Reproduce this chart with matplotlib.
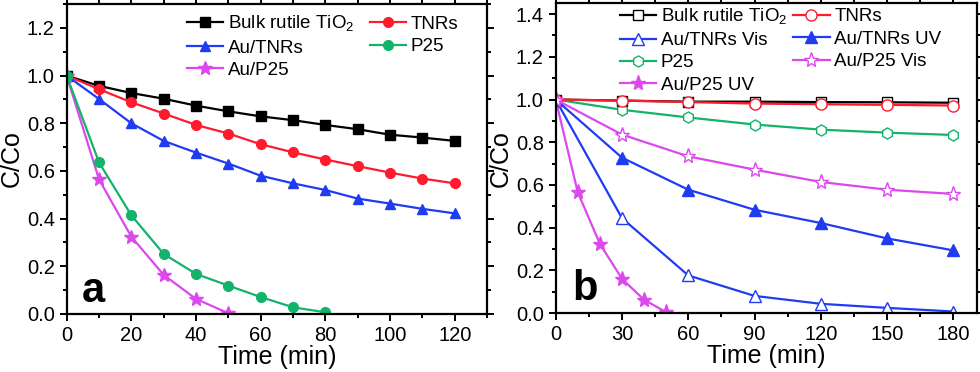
import matplotlib.pyplot as plt
from matplotlib.ticker import MultipleLocator

plt.rcParams['font.family'] = ['Liberation Sans', 'DejaVu Sans']
plt.rcParams['mathtext.fontset'] = 'custom'
plt.rcParams['mathtext.rm'] = 'Liberation Sans'

# panel a
t_a = [0, 10, 20, 30, 40, 50, 60, 70, 80, 90, 100, 110, 120]
bulk_a = [1.0, 0.957, 0.927, 0.903, 0.874, 0.850, 0.829, 0.813, 0.793, 0.775, 0.752, 0.740, 0.726]
tnrs_a = [1.0, 0.943, 0.888, 0.841, 0.793, 0.757, 0.712, 0.678, 0.648, 0.620, 0.593, 0.568, 0.548]
autnrs_a = [1.0, 0.902, 0.800, 0.726, 0.677, 0.631, 0.580, 0.548, 0.520, 0.484, 0.463, 0.441, 0.422]
t_p25 = [0, 10, 20, 30, 40, 50, 60, 70, 80]
p25_a = [1.0, 0.636, 0.414, 0.252, 0.168, 0.119, 0.071, 0.028, 0.007]
t_aup25 = [0, 10, 20, 30, 40, 50]
aup25_a = [1.0, 0.565, 0.324, 0.164, 0.063, 0.003]

# panel b
t_b = [0, 30, 60, 90, 120, 150, 180]
bulk_b = [1.0, 0.995, 0.990, 0.990, 0.988, 0.987, 0.985]
tnrs_b = [1.0, 0.995, 0.988, 0.981, 0.978, 0.975, 0.972]
autnrs_vis = [1.0, 0.445, 0.177, 0.081, 0.044, 0.025, 0.008]
autnrs_uv = [1.0, 0.728, 0.578, 0.484, 0.422, 0.350, 0.294]
p25_b = [1.0, 0.952, 0.916, 0.883, 0.859, 0.845, 0.834]
aup25_vis = [1.0, 0.836, 0.734, 0.672, 0.614, 0.578, 0.558]
t_aup25_uv = [0, 10, 20, 30, 40, 50]
aup25_uv = [1.0, 0.566, 0.325, 0.161, 0.063, 0.005]

black = '#000000'
red = '#ff1a2e'
blue = '#1f3cf2'
green = '#14b36b'
magenta = '#dc48ee'

fig = plt.figure(figsize=(9.8, 3.72), dpi=100)
ax1 = fig.add_axes([0.068, 0.156, 0.429, 0.833])
ax2 = fig.add_axes([0.567, 0.158, 0.4296, 0.833])

lw = 1.6
ax1.plot(t_a, bulk_a, '-s', color=black, lw=lw, ms=6.5, label='Bulk rutile TiO$_2$')
ax1.plot(t_a, autnrs_a, '-^', color=blue, lw=lw, ms=7, label='Au/TNRs')
ax1.plot(t_aup25, aup25_a, '-*', color=magenta, lw=lw, ms=10, label='Au/P25')
ax1.plot(t_a, tnrs_a, '-o', color=red, lw=lw, ms=7, label='TNRs')
ax1.plot(t_p25, p25_a, '-o', color=green, lw=lw, ms=7, label='P25')

mfc = 'white'
ax2.plot(t_b, bulk_b, '-s', color=black, mfc=mfc, lw=lw, ms=6.5, label='Bulk rutile TiO$_2$')
ax2.plot(t_b, autnrs_vis, '-^', color=blue, mfc=mfc, lw=lw, ms=8, label='Au/TNRs Vis')
ax2.plot(t_b, p25_b, '-h', color=green, mfc=mfc, lw=lw, ms=8, label='P25')
ax2.plot(t_aup25_uv, aup25_uv, '-*', color=magenta, lw=lw, ms=11, label='Au/P25 UV')
ax2.plot(t_b, tnrs_b, '-o', color=red, mfc=mfc, lw=lw, ms=8, label='TNRs')
ax2.plot(t_b, autnrs_uv, '-^', color=blue, lw=lw, ms=8, label='Au/TNRs UV')
ax2.plot(t_b, aup25_vis, '-*', color=magenta, mfc=mfc, lw=lw, ms=11, label='Au/P25 Vis')

for ax in (ax1, ax2):
    for s in ax.spines.values():
        s.set_linewidth(1.6)
    ax.tick_params(which='both', direction='out', top=True, right=True, labelsize=14.5, width=1.4)
    ax.tick_params(which='major', length=5)
    ax.tick_params(which='minor', length=3)
    ax.set_xlabel('Time (min)', fontsize=18, labelpad=0)
    ax.set_ylabel('C/Co', fontsize=18, labelpad=2)

ax1.set_xlim(0, 130)
ax1.set_ylim(0, 1.3)
ax1.xaxis.set_major_locator(MultipleLocator(20))
ax1.xaxis.set_minor_locator(MultipleLocator(10))
ax1.yaxis.set_major_locator(MultipleLocator(0.2))
ax1.yaxis.set_minor_locator(MultipleLocator(0.1))
ax1.yaxis.set_major_formatter('{x:.1f}')

ax2.set_xlim(0, 190.5)
ax2.set_ylim(0, 1.45)
ax2.xaxis.set_major_locator(MultipleLocator(30))
ax2.xaxis.set_minor_locator(MultipleLocator(15))
ax2.yaxis.set_major_locator(MultipleLocator(0.2))
ax2.yaxis.set_minor_locator(MultipleLocator(0.1))
ax2.yaxis.set_major_formatter('{x:.1f}')

leg_kw = dict(loc='upper left', ncol=2, frameon=False, fontsize=13.5, borderpad=0,
              handlelength=1.95, handletextpad=0.25, labelspacing=0.28, columnspacing=0.8,
              borderaxespad=0)
ax1.legend(bbox_to_anchor=(0.286, 0.968), **leg_kw)
leg_kw['columnspacing'] = 0.3
ax2.legend(bbox_to_anchor=(0.152, 0.99), **leg_kw)

ax1.text(0.036, 0.04, 'a', transform=ax1.transAxes, fontsize=30, fontweight='bold')
ax2.text(0.04, 0.043, 'b', transform=ax2.transAxes, fontsize=30, fontweight='bold')

fig.savefig('out.png', dpi=100)
